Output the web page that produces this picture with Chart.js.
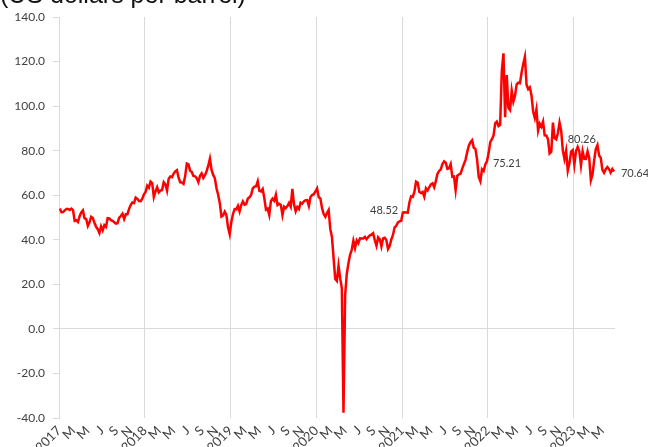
<!DOCTYPE html>
<html>
<head>
<meta charset="utf-8">
<script src="https://cdn.jsdelivr.net/npm/chart.js@4.4.1/dist/chart.umd.min.js"></script>
<style>
  html, body { margin: 0; padding: 0; background: #fff; overflow: hidden; }
  #wrap { position: relative; width: 648px; height: 447px; }
  #unit { position: absolute; left: 0; top: -20px; font-family: "Liberation Sans", Arial, sans-serif; font-size: 25px; color: #111; white-space: nowrap; }
  canvas { position: absolute; left: 0; top: 0; }
</style>
</head>
<body>
<div id="wrap">
  <canvas id="myChart" width="648" height="447"></canvas>
  <div id="unit">(US dollars per barrel)</div>
</div>
<script>
// WTI crude, weekly readings (52 per year), US$ per barrel
const years = ['2017', '2018', '2019', '2020', '2021', '2022', '2023'];
const monthLetters = ['M', 'M', 'J', 'S', 'N']; // Mar, May, Jul, Sep, Nov

const wti2017 = [53.99, 52.37, 52.42, 53.17, 53.83, 53.86, 53.40, 53.99, 53.33, 48.49, 48.78, 47.97, 50.60,
  52.24, 53.18, 49.62, 49.33, 46.22, 47.84, 50.33, 49.80, 47.66, 45.83, 44.74, 43.01, 46.04,
  44.23, 46.54, 45.77, 49.71, 49.58, 48.82, 48.51, 47.87, 47.29, 47.48, 49.89, 50.66, 51.67,
  49.29, 51.45, 51.47, 53.90, 55.64, 56.74, 56.55, 58.95, 58.36, 57.36, 57.30, 58.47, 60.42];
const wti2018 = [61.44, 64.30, 63.37, 66.14, 65.45, 59.20, 61.68, 63.55, 61.25, 62.04, 62.34, 65.88, 64.94,
  62.06, 67.39, 68.38, 68.10, 69.72, 70.70, 71.28, 67.88, 65.81, 65.74, 65.06, 68.58, 74.15,
  73.80, 71.01, 70.46, 68.69, 68.49, 67.63, 65.91, 68.72, 69.80, 67.75, 68.99, 70.78, 73.25,
  76.41, 71.34, 69.12, 67.59, 63.14, 60.19, 56.46, 50.42, 50.93, 52.61, 51.20, 45.59, 42.53];
const wti2019 = [47.96, 51.59, 53.80, 53.69, 55.26, 52.72, 55.59, 57.26, 55.80, 56.07, 58.52, 59.04, 60.14,
  63.08, 63.89, 64.00, 66.30, 61.94, 61.66, 62.76, 58.63, 53.50, 53.99, 51.14, 57.43, 58.47,
  57.51, 60.21, 55.63, 56.20, 55.66, 51.09, 54.87, 54.17, 55.10, 56.52, 54.85, 62.90, 55.91,
  52.81, 54.70, 53.78, 56.66, 56.20, 57.24, 57.72, 57.77, 55.17, 59.20, 60.07, 60.44, 61.72];
const wti2020 = [63.05, 59.04, 58.54, 54.19, 51.56, 50.32, 52.05, 53.38, 44.76, 41.28, 31.73, 22.43, 21.51,
  28.34, 22.76, 18.27, -37.63, 15.10, 24.74, 29.43, 33.25, 35.49, 39.55, 36.26, 39.75, 38.49,
  40.65, 40.55, 40.59, 41.29, 40.27, 41.22, 42.01, 42.34, 42.97, 39.77, 37.33, 41.11, 40.25,
  37.05, 40.60, 40.88, 39.85, 35.79, 37.14, 40.13, 42.15, 45.53, 46.26, 47.80, 48.23, 48.52];
const wti2021 = [52.24, 52.36, 52.27, 52.20, 56.85, 59.47, 59.24, 61.50, 66.09, 65.61, 61.42, 60.97, 61.45,
  59.32, 63.13, 62.14, 63.58, 64.90, 65.37, 63.58, 66.32, 69.62, 70.91, 71.64, 74.05, 75.16,
  74.56, 71.81, 72.07, 73.95, 68.28, 68.44, 62.32, 68.74, 69.29, 69.72, 71.97, 73.98, 75.88,
  79.35, 82.28, 83.76, 84.65, 81.27, 80.79, 76.10, 68.15, 66.26, 71.67, 70.86, 73.79, 75.21];
const wti2022 = [78.90, 83.82, 85.14, 86.82, 92.31, 93.10, 91.07, 91.59, 115.68, 123.70, 95.04, 113.90, 99.27,
  98.26, 106.95, 102.07, 104.69, 109.77, 110.49, 110.28, 115.07, 118.87, 122.11, 109.56, 107.62, 108.43,
  104.79, 97.59, 94.70, 98.62, 89.01, 92.09, 90.77, 93.06, 86.87, 86.79, 85.11, 78.74, 79.49,
  92.64, 85.61, 85.05, 87.90, 92.61, 88.96, 80.08, 76.28, 79.98, 71.02, 74.29, 79.56, 80.26];
const wti2023 = [73.77, 79.86, 81.64, 79.68, 73.39, 79.72, 76.34, 76.32, 79.68, 76.68, 66.74, 69.26, 75.67,
  80.70, 82.52, 77.87, 76.78, 71.34, 70.04, 71.69, 72.67, 71.74, 70.17, 71.78, 70.64];

const allYears = [wti2017, wti2018, wti2019, wti2020, wti2021, wti2022, wti2023];
// year-end closes that carry a value label
const labelledYears = [3, 4, 5, 6];

const points = [];
const labelIndex = [];
allYears.forEach((arr, y) => {
    arr.forEach((v, i) => {
        points.push({ x: y * 12 + (i + 0.5) * 12 / 52, y: v });
    });
    if (labelledYears.includes(y)) labelIndex.push(points.length - 1);
});

const grey = '#d9d9d9';

// value labels next to the year-end points
const valueLabels = {
    id: 'valueLabels',
    afterDatasetsDraw(chart) {
        const ctx = chart.ctx;
        const meta = chart.getDatasetMeta(0);
        const place = [
            { dx: -3, dy: -10, align: 'right' },
            { dx: 6, dy: 2, align: 'left' },
            { dx: 9, dy: -11, align: 'center' },
            { dx: 7, dy: 2, align: 'left' }
        ];
        ctx.save();
        ctx.font = '11px Lato, "Open Sans", sans-serif';
        ctx.fillStyle = '#404040';
        ctx.textBaseline = 'middle';
        labelIndex.forEach((idx, k) => {
            const pt = meta.data[idx];
            ctx.textAlign = place[k].align;
            ctx.fillText(points[idx].y.toFixed(2), pt.x + place[k].dx, pt.y + place[k].dy);
        });
        ctx.restore();
    }
};

const ctx = document.getElementById('myChart').getContext('2d');
new Chart(ctx, {
    type: 'line',
    data: {
        datasets: [{
            data: points,
            borderColor: '#ff0000',
            borderWidth: 2.5,
            pointRadius: 0,
            tension: 0,
            fill: false
        }]
    },
    options: {
        responsive: false,
        animation: false,
        devicePixelRatio: 1,
        layout: { padding: { top: 17, right: 33, left: 0, bottom: 0 } },
        plugins: {
            legend: { display: false },
            tooltip: { enabled: false }
        },
        scales: {
            x: {
                type: 'linear',
                min: 0,
                max: 77.8,
                afterFit: (scale) => { scale.height = 29; },
                border: { display: false },
                grid: {
                    color: (c) => (c.tick && c.tick.value % 12 === 0) ? grey : 'rgba(0,0,0,0)',
                    drawTicks: false
                },
                ticks: {
                    stepSize: 2,
                    includeBounds: false,
                    autoSkip: false,
                    minRotation: 45,
                    maxRotation: 45,
                    padding: 5,
                    color: '#404040',
                    font: { family: 'Lato, "Open Sans", sans-serif', size: 13 },
                    callback: (v) => {
                        if (v % 12 === 0) return years[v / 12];
                        return monthLetters[(v % 12) / 2 - 1];
                    }
                }
            },
            y: {
                min: -40,
                max: 140,
                afterFit: (scale) => { scale.width = 59; },
                border: { display: true, color: grey },
                grid: {
                    color: (c) => (c.tick && c.tick.value === 0) ? grey : 'rgba(0,0,0,0)',
                    tickColor: grey,
                    tickLength: 6
                },
                ticks: {
                    stepSize: 20,
                    padding: 8,
                    color: '#404040',
                    font: { family: 'Lato, "Open Sans", sans-serif', size: 12 },
                    callback: (v) => v.toFixed(1)
                }
            }
        }
    },
    plugins: [valueLabels]
});
</script>
</body>
</html>
